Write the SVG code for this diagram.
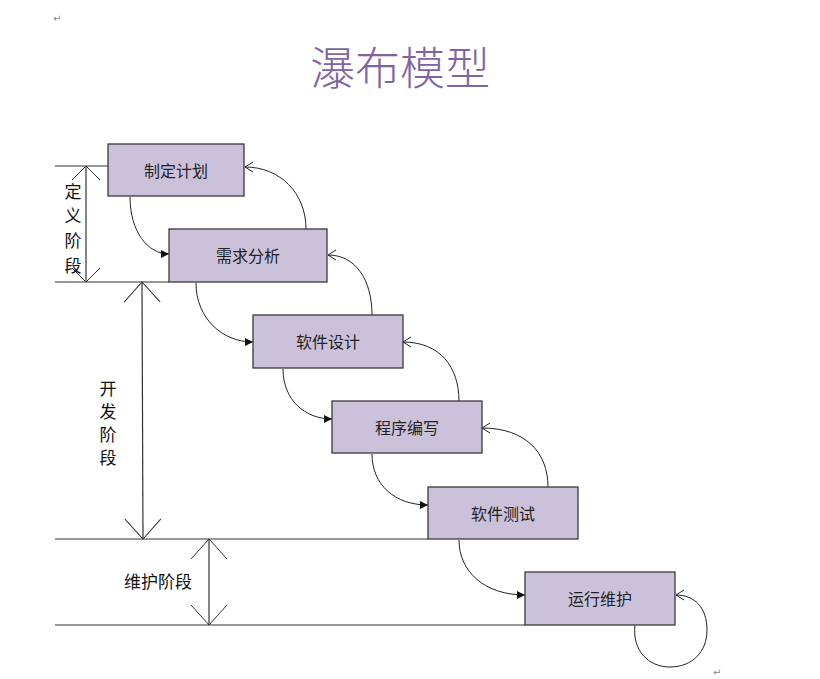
<svg xmlns="http://www.w3.org/2000/svg" width="820" height="679" viewBox="0 0 820 679">
<style>
.box{fill:#ccc1da;stroke:#3a3a3a;stroke-width:1.3}
.bt{font-family:"Noto Sans CJK SC",sans-serif;font-size:16px;fill:#222;text-anchor:middle;dominant-baseline:central}
.lb{font-family:"Noto Sans CJK SC",sans-serif;font-size:17px;fill:#111;text-anchor:middle;dominant-baseline:central}
.ln{stroke:#333;stroke-width:1.2;fill:none}
.cv{stroke:#222;stroke-width:1;fill:none}
.mk{font-family:"DejaVu Sans",sans-serif;font-size:10px;fill:#888}
</style>
<defs>
<marker id="fa" markerWidth="10" markerHeight="10" refX="8" refY="5" orient="auto" markerUnits="userSpaceOnUse">
<path d="M0,1 L8,5 L0,9 Z" fill="#111"/>
</marker>
<marker id="oa" markerWidth="12" markerHeight="12" refX="10" refY="6" orient="auto" markerUnits="userSpaceOnUse">
<path d="M2,1 L10,6 L2,11" fill="none" stroke="#222" stroke-width="1"/>
</marker>
<marker id="va" markerWidth="22" markerHeight="40" refX="21" refY="20" orient="auto-start-reverse" markerUnits="userSpaceOnUse">
<path d="M1,2 L21,20 L1,38" fill="none" stroke="#333" stroke-width="1"/>
</marker>
<marker id="vs" markerWidth="16" markerHeight="32" refX="15" refY="16" orient="auto-start-reverse" markerUnits="userSpaceOnUse">
<path d="M1,2 L15,16 L1,30" fill="none" stroke="#333" stroke-width="1"/>
</marker>
</defs>
<rect width="820" height="679" fill="#fff"/>
<text class="mk" x="53" y="22">↵</text>
<text class="mk" x="713" y="676">↵</text>
<text x="400" y="65" font-family="Noto Sans CJK SC,sans-serif" font-size="45" fill="#8064a2" text-anchor="middle" dominant-baseline="central" font-weight="300">瀑布模型</text>

<g id="guides">
<line class="ln" x1="55" y1="166" x2="108" y2="166"/>
<line class="ln" x1="55" y1="282" x2="169" y2="282"/>
<line class="ln" x1="55" y1="539" x2="428" y2="539"/>
<line class="ln" x1="55" y1="625" x2="525" y2="625"/>
<line class="ln" x1="86" y1="166" x2="86" y2="282" marker-start="url(#vs)" marker-end="url(#vs)"/>
<line class="ln" x1="142" y1="282" x2="143" y2="539" marker-start="url(#va)" marker-end="url(#va)"/>
<line class="ln" x1="209" y1="539" x2="209" y2="625" marker-start="url(#va)" marker-end="url(#va)"/>
<text class="lb" x="73" y="190">定</text>
<text class="lb" x="73" y="214">义</text>
<text class="lb" x="73" y="239">阶</text>
<text class="lb" x="73" y="264">段</text>
<text class="lb" x="108" y="387">开</text>
<text class="lb" x="108" y="410">发</text>
<text class="lb" x="108" y="433">阶</text>
<text class="lb" x="108" y="456">段</text>
<text class="lb" x="158" y="580">维护阶段</text>
</g>

<g id="connectors">
<path class="cv" d="M130,197 C130,232 148,254 169,254" marker-end="url(#fa)"/>
<path class="cv" d="M196,283 C196,318 222,342 253,342" marker-end="url(#fa)"/>
<path class="cv" d="M283,369 C283,400 305,419 332,419" marker-end="url(#fa)"/>
<path class="cv" d="M372,454 C372,485 395,505 428,505" marker-end="url(#fa)"/>
<path class="cv" d="M459,540 C459,572 485,595 525,595" marker-end="url(#fa)"/>
<path class="cv" d="M306,229 C306,193 280,167 245,167" marker-end="url(#oa)"/>
<path class="cv" d="M372,315 C372,279 355,255 328,255" marker-end="url(#oa)"/>
<path class="cv" d="M459,401 C459,367 440,342 403,342" marker-end="url(#oa)"/>
<path class="cv" d="M548,487 C548,452 525,428 482,428" marker-end="url(#oa)"/>
<path class="cv" d="M635,625 C632,650 648,667 670,667 C692,667 707,652 707,630 C707,608 695,595 676,595" marker-end="url(#oa)"/>
</g>

<g id="n1"><rect class="box" x="108" y="144" width="136" height="52"/><text class="bt" x="176" y="170">制定计划</text></g>
<g id="n2"><rect class="box" x="169" y="229" width="158" height="53"/><text class="bt" x="248" y="255">需求分析</text></g>
<g id="n3"><rect class="box" x="253" y="315" width="150" height="53"/><text class="bt" x="328" y="341">软件设计</text></g>
<g id="n4"><rect class="box" x="332" y="401" width="150" height="52"/><text class="bt" x="407" y="427">程序编写</text></g>
<g id="n5"><rect class="box" x="428" y="487" width="150" height="52"/><text class="bt" x="503" y="513">软件测试</text></g>
<g id="n6"><rect class="box" x="525" y="572" width="150" height="53"/><text class="bt" x="600" y="598">运行维护</text></g>
</svg>
